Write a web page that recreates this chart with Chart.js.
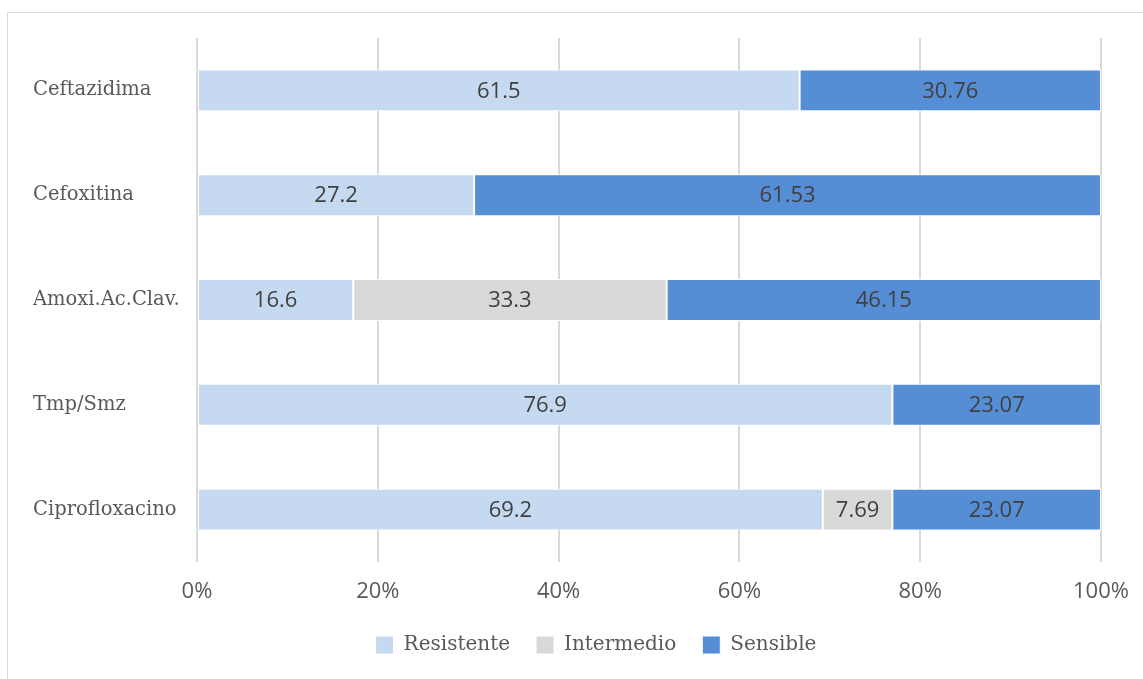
<!DOCTYPE html>
<html>
<head>
<meta charset="utf-8">
<script src="https://cdn.jsdelivr.net/npm/chart.js@4"></script>
<style>
  body { margin: 0; background: #fff; }
  #wrap { position: relative; width: 1143px; height: 679px; overflow: hidden; }
  #frame { position: absolute; left: 7px; top: 12px; width: 1160px; height: 700px; border: 1px solid #D9D9D9; }
  canvas { position: absolute; left: 0; top: 0; }
</style>
</head>
<body>
<div id="wrap">
  <div id="frame"></div>
  <canvas id="myChart" width="1143" height="679"></canvas>
</div>
<script>
// antibiotics and raw values
const categories = ['Ceftazidima', 'Cefoxitina', 'Amoxi.Ac.Clav.', 'Tmp/Smz', 'Ciprofloxacino'];
const resistente = [61.5, 27.2, 16.6, 76.9, 69.2];
const intermedio = [0, 0, 33.3, 0, 7.69];
const sensible = [30.76, 61.53, 46.15, 23.07, 23.07];
const tickLabels = ['0%', '20%', '40%', '60%', '80%', '100%'];

const serif = "'DejaVu Serif', serif";
const sans = "'Open Sans', 'Noto Sans', sans-serif";

// 100% stacked: each row scaled to its own total
function toPct(arr){
    return arr.map((v, i) => {
        const total = resistente[i] + intermedio[i] + sensible[i];
        return v / total * 100;
    });
}

const rawValues = [resistente, intermedio, sensible];

const valueLabels = {
    id: 'valueLabels',
    afterDatasetsDraw(chart){
        const ctx = chart.ctx;
        ctx.save();
        ctx.font = '22px ' + sans;
        ctx.fillStyle = '#404040';
        ctx.textAlign = 'center';
        ctx.textBaseline = 'middle';
        chart.data.datasets.forEach((ds, d) => {
            const meta = chart.getDatasetMeta(d);
            meta.data.forEach((bar, i) => {
                const v = rawValues[d][i];
                if (!v) return;
                const cx = (bar.x + bar.base) / 2;
                ctx.fillText(String(v), cx, bar.y + 1);
            });
        });
        ctx.restore();
    }
};

// legend in the original sits a bit right of the canvas centre
const legendShift = {
    id: 'legendShift',
    afterLayout(chart){
        chart.legend.left += 29;
        chart.legend.right += 29;
    }
};

const chartData = {
    labels: categories,
    datasets: [
        { label: 'Resistente', data: toPct(resistente), backgroundColor: '#C5D9F1' },
        { label: 'Intermedio', data: toPct(intermedio), backgroundColor: '#D9D9D9' },
        { label: 'Sensible', data: toPct(sensible), backgroundColor: '#558ED5' }
    ]
};
chartData.datasets.forEach(ds => {
    ds.borderColor = '#ffffff';
    ds.borderWidth = 1;
    ds.borderSkipped = false;
    ds.categoryPercentage = 1;
    ds.barPercentage = 0.4;
});

const config = {
    type: 'bar',
    data: chartData,
    options: {
        indexAxis: 'y',
        responsive: false,
        animation: false,
        layout: { padding: { left: 33, right: 42, top: 38, bottom: 14 } },
        scales: {
            x: {
                stacked: true,
                min: 0,
                max: 100,
                border: { display: false },
                grid: { color: '#D9D9D9', lineWidth: 2, drawTicks: false },
                ticks: {
                    stepSize: 20,
                    padding: 17,
                    color: '#595959',
                    font: { family: sans, size: 22 },
                    callback: (v, i) => tickLabels[i]
                },
                afterFit(scale){
                    scale.height = 47;
                    scale.paddingLeft = 0;
                    scale.paddingRight = 0;
                }
            },
            y: {
                stacked: true,
                border: { display: false },
                grid: { display: false },
                ticks: {
                    crossAlign: 'far',
                    color: '#595959',
                    font: { family: serif, size: 19.5 }
                },
                afterFit(scale){ scale.width = 164; }
            }
        },
        plugins: {
            legend: {
                position: 'bottom',
                labels: {
                    boxWidth: 18,
                    boxHeight: 18,
                    padding: 26,
                    color: '#595959',
                    font: { family: serif, size: 20 }
                }
            },
            tooltip: { enabled: false }
        }
    },
    plugins: [valueLabels, legendShift]
};

new Chart(document.getElementById('myChart'), config);
</script>
</body>
</html>
